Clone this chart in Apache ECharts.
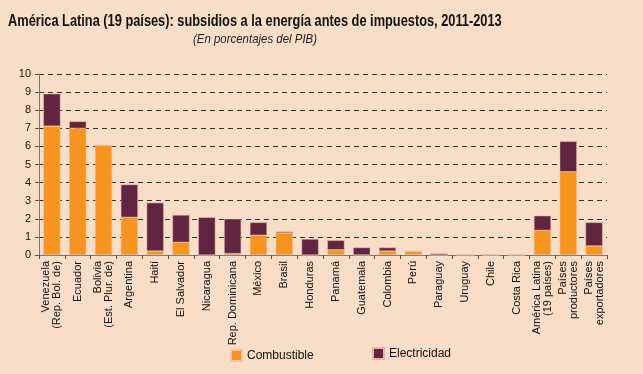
<!DOCTYPE html>
<html><head><meta charset="utf-8">
<script src="https://cdn.jsdelivr.net/npm/echarts@6/dist/echarts.min.js"></script>
<style>html,body{margin:0;padding:0;background:#F8DEC6;}#c{width:643px;height:374px;}</style>
</head><body><div id="c"></div>
<script>
const categories = ["Venezuela\n(Rep. Bol. de)","Ecuador","Bolivia\n(Est. Plur. de)","Argentina","Haití","El Salvador","Nicaragua","Rep. Dominicana","México","Brasil","Honduras","Panamá","Guatemala","Colombia","Perú","Paraguay","Uruguay","Chile","Costa Rica","América Latina\n(19 países)","Países\nproductores","Países\nexportadores"];
const combustible = [7.12,7.0,6.06,2.08,0.22,0.70,0,0.08,1.09,1.22,0,0.29,0,0.22,0.20,0,0,0,0,1.36,4.60,0.50];
const electricidad = [1.79,0.38,0,1.81,2.67,1.51,2.08,1.92,0.71,0.07,0.88,0.52,0.41,0.19,0,0.08,0,0,0,0.81,1.68,1.30];
const yTicks = [0,1,2,3,4,5,6,7,8,9,10];
const titleText = 'América Latina (19 países): subsidios a la energía antes de impuestos, 2011-2013';
const subtitleText = '(En porcentajes del PIB)';

const chart = echarts.init(document.getElementById('c'));
const font = 'Arial, "Liberation Sans", sans-serif';
chart.setOption({
  backgroundColor: '#F8DEC6',
  animation: false,
  graphic: [
    {type: 'text', x: 8, y: 14, scaleX: 0.80,
     style: {text: titleText, font: 'bold 16px Arial, "Liberation Sans", sans-serif', fill: '#111', textAlign: 'left', textVerticalAlign: 'top'}},
    {type: 'text', x: 255, y: 33, scaleX: 0.88,
     style: {text: subtitleText, font: 'italic 13px Arial, "Liberation Sans", sans-serif', fill: '#222', textAlign: 'center', textVerticalAlign: 'top'}}
  ],
  legend: [
    {data: ['Combustible'], left: 225, top: 344, itemWidth: 11, itemHeight: 11, icon: 'rect',
     textStyle: {fontFamily: font, fontSize: 12, color: '#111'}},
    {data: ['Electricidad'], left: 367, top: 342, itemWidth: 11, itemHeight: 11, icon: 'rect',
     textStyle: {fontFamily: font, fontSize: 12, color: '#111'}}
  ],
  grid: {left: 39, right: 36, top: 74, bottom: 119, containLabel: false},
  xAxis: {
    type: 'category', data: categories,
    axisLine: {lineStyle: {color: '#777', width: 1}},
    axisTick: {show: true, length: 4, lineStyle: {color: '#555'}},
    axisLabel: {rotate: 90, interval: 0, fontFamily: font, fontSize: 11, color: '#111', lineHeight: 11, margin: 6}
  },
  yAxis: {
    type: 'value', min: 0, max: 10, interval: 1,
    axisLine: {show: true, lineStyle: {color: '#777'}},
    axisTick: {show: true, length: 4, lineStyle: {color: '#555'}},
    axisLabel: {fontFamily: font, fontSize: 11, color: '#111', margin: 8,
      formatter: v => yTicks.includes(v) ? String(v) : ''},
    splitLine: {show: true, lineStyle: {color: '#333', type: [5,4], width: 1}}
  },
  series: [
    {name: 'Combustible', type: 'bar', stack: 's', data: combustible, barWidth: '66%',
     itemStyle: {color: '#F7941D', borderColor: '#F2C3A6', borderWidth: 0.5}},
    {name: 'Electricidad', type: 'bar', stack: 's', data: electricidad, barWidth: '66%',
     itemStyle: {color: '#612541', borderColor: '#E5B3A8', borderWidth: 0.5}}
  ]
});
</script></body></html>
